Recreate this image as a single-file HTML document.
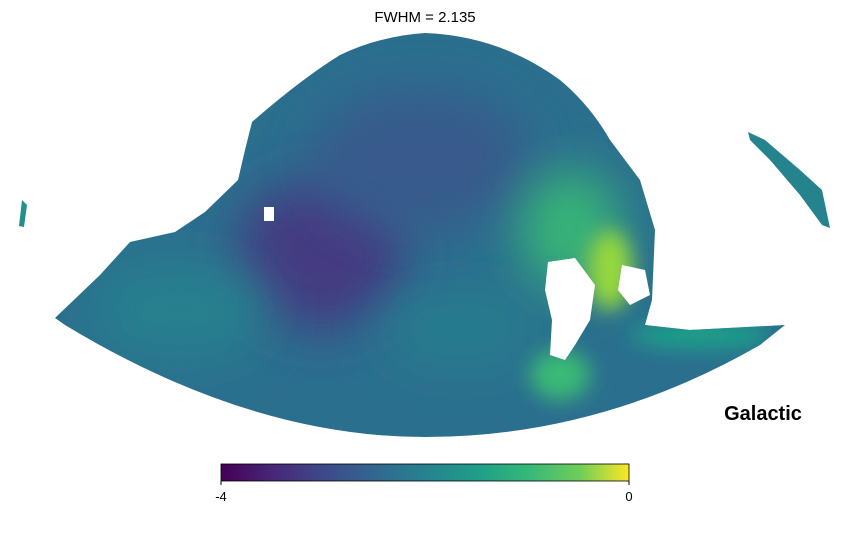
<!DOCTYPE html>
<html><head><meta charset="utf-8"><style>
body{margin:0;background:#fff;}
svg{display:block;font-family:"Liberation Sans",sans-serif;}
</style></head><body>
<svg width="850" height="540" viewBox="0 0 850 540">
<defs>
<linearGradient id="viridis" x1="0" x2="1" y1="0" y2="0">
<stop offset="0" stop-color="#440154"/><stop offset="0.13" stop-color="#482878"/>
<stop offset="0.25" stop-color="#3e4989"/><stop offset="0.38" stop-color="#31688e"/>
<stop offset="0.5" stop-color="#26828e"/><stop offset="0.63" stop-color="#1f9e89"/>
<stop offset="0.75" stop-color="#35b779"/><stop offset="0.88" stop-color="#6ece58"/>
<stop offset="1" stop-color="#fde725"/></linearGradient>
<filter id="blur" x="-50%" y="-50%" width="200%" height="200%"><feGaussianBlur stdDeviation="25"/></filter>
<filter id="blur2" x="-50%" y="-50%" width="200%" height="200%"><feGaussianBlur stdDeviation="10"/></filter>
<clipPath id="region">
<path d="M55,318 L100,275 L130,242 L175,232 L205,212 L238,180 L245,150 L252,122 Q300,80 340,55 Q380,36 425,33 Q500,36 560,80 Q590,105 610,140 L640,180 L655,230 L652,300 L645,325 L690,330 L785,325 L760,345 Q600,437 425,437 Q250,437 65,325 Z"/>
</clipPath>
</defs>
<g clip-path="url(#region)">
<rect x="0" y="0" width="850" height="450" fill="#2b6f8e"/>
<ellipse cx="320" cy="255" rx="85" ry="75" fill="#453a82" filter="url(#blur)"/>
<ellipse cx="420" cy="160" rx="110" ry="70" fill="#375a8c" filter="url(#blur)"/>
<ellipse cx="180" cy="310" rx="90" ry="50" fill="#25808e" filter="url(#blur)"/>
<ellipse cx="460" cy="330" rx="80" ry="40" fill="#287c8e" filter="url(#blur)"/>
<ellipse cx="570" cy="230" rx="50" ry="60" fill="#38b677" filter="url(#blur)"/>
<ellipse cx="610" cy="270" rx="22" ry="40" fill="#96d83d" filter="url(#blur2)"/>
<ellipse cx="560" cy="375" rx="30" ry="25" fill="#3aba76" filter="url(#blur2)"/>
<ellipse cx="700" cy="335" rx="70" ry="15" fill="#1f9e89" filter="url(#blur2)"/>
</g>
<path d="M548,262 L575,258 L595,285 L590,320 L575,345 L565,360 L550,355 L552,320 L545,290 Z" fill="#fff"/>
<path d="M622,265 L645,270 L650,295 L630,305 L618,290 Z" fill="#fff"/>
<rect x="264" y="207" width="10" height="14" fill="#fff"/>
<path d="M748,132 L765,140 L800,170 L822,190 L830,228 L822,225 L800,195 L770,160 L750,140 Z" fill="#25838e"/>
<path d="M22,200 L27,205 L24,227 L19,226 Z" fill="#22908c"/>
<text x="425" y="22" text-anchor="middle" font-size="15" fill="#000">FWHM = 2.135</text>
<text x="763" y="420" text-anchor="middle" font-size="20" font-weight="bold" fill="#000">Galactic</text>
<g>
<rect x="221" y="464" width="408" height="17" fill="url(#viridis)" stroke="#000" stroke-width="0.8"/>
<g id="cbticks"></g>
</g>
<script>
const tickValues=[-4,0];
const tickLabels=["-4","0"];
const vmin=-4,vmax=0;
const g=document.getElementById('cbticks');
function cx(v){return 221+(v-vmin)/(vmax-vmin)*408;}
tickValues.forEach((v,i)=>{
const l=document.createElementNS('http://www.w3.org/2000/svg','line');
l.setAttribute('x1',cx(v));l.setAttribute('x2',cx(v));l.setAttribute('y1',481);l.setAttribute('y2',485);l.setAttribute('stroke','#000');


g.appendChild(l);
const t=document.createElementNS('http://www.w3.org/2000/svg','text');
t.setAttribute('x',cx(v));t.setAttribute('y',501);t.setAttribute('text-anchor','middle');t.setAttribute('font-size','13');
t.textContent=tickLabels[i];


g.appendChild(t);
});
</script>
</svg>
</body></html>
